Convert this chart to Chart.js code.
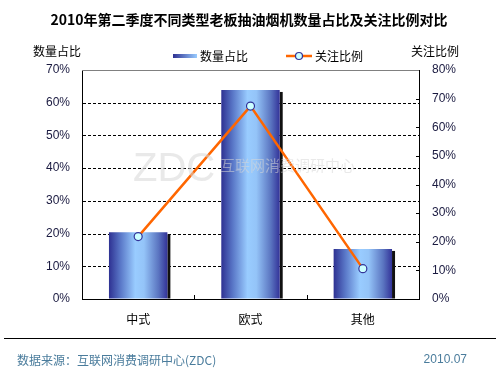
<!DOCTYPE html>
<html>
<head>
<meta charset="utf-8">
<script src="https://cdn.jsdelivr.net/npm/chart.js@4.4.0/dist/chart.umd.min.js"></script>
<style>
    html, body { margin: 0; padding: 0; background: #ffffff; }
    #chartWrap { width: 500px; height: 375px; }
</style>
</head>
<body>
<div id="chartWrap"><canvas id="zdcChart" width="500" height="375"></canvas></div>
<script>
const categories = ['中式', '欧式', '其他'];
const shareValues = [20.4, 63.9, 15.3];
const attentionValues = [21.8, 67.4, 10.6];
const leftTicks = [0, 10, 20, 30, 40, 50, 60, 70];
const rightTicks = [0, 10, 20, 30, 40, 50, 60, 70, 80];

const chartTitle = '2010年第二季度不同类型老板抽油烟机数量占比及关注比例对比';
const leftAxisTitle = '数量占比';
const rightAxisTitle = '关注比例';
const sourceText = '数据来源：互联网消费调研中心(ZDC)';
const dateText = '2010.07';

const CJK_FONT = "'Noto Sans CJK SC', 'Noto Sans', sans-serif";
const LATIN_FONT = "'Liberation Sans', Arial, sans-serif";
const BAR_PERCENT = 0.52;

function barGradient(context) {
    const chart = context.chart;
    const xScale = chart.scales.x;
    if (!chart.chartArea || !xScale) return '#6f8fd8';

    const center = xScale.getPixelForValue(context.dataIndex);
    const half = xScale.width / categories.length * BAR_PERCENT / 2;
    const gradient = chart.ctx.createLinearGradient(center - half, 0, center + half, 0);
    gradient.addColorStop(0, '#2e3192');
    gradient.addColorStop(0.2, '#5a78c8');
    gradient.addColorStop(0.45, '#99ccff');
    gradient.addColorStop(0.6, '#94c4f8');
    gradient.addColorStop(0.85, '#5a74c0');
    gradient.addColorStop(1, '#333399');
    return gradient;
}

const decorPlugin = {
    id: 'zdcDecor',
    beforeDatasetsDraw(chart) {
        // dashed grid lines behind the bars
        const ctx = chart.ctx;
        const area = chart.chartArea;
        const yScale = chart.scales.y;
        ctx.save();
        ctx.strokeStyle = '#000000';
        ctx.lineWidth = 1;
        ctx.setLineDash([3, 2]);
        leftTicks.forEach(function (v) {
            if (v === 0 || v === 70) return;
            const y = Math.round(yScale.getPixelForValue(v)) + 0.5;
            ctx.beginPath();
            ctx.moveTo(area.left + 1, y);
            ctx.lineTo(area.right, y);
            ctx.stroke();
        });
        ctx.restore();
    },
    beforeDatasetDraw(chart, args) {
        if (args.index !== 0) return;
        const ctx = chart.ctx;
        ctx.save();
        ctx.fillStyle = '#111111';
        chart.getDatasetMeta(0).data.forEach(function (bar) {
            const p = bar.getProps(['x', 'y', 'base', 'width'], true);
            ctx.fillRect(p.x + p.width / 2, p.y + 2, 3, p.base - p.y - 2);
        });
        ctx.restore();
    },
    afterDatasetsDraw(chart) {
        const ctx = chart.ctx;
        ctx.save();
        // watermark
        ctx.fillStyle = 'rgba(215, 215, 215, 0.55)';
        ctx.textBaseline = 'middle';
        ctx.font = '40px ' + LATIN_FONT;
        ctx.fillText('ZDC', 133, 170);
        ctx.font = '15px ' + CJK_FONT;
        ctx.fillText('互联网消费调研中心', 220, 165);
        ctx.restore();
    },
    afterDraw(chart) {
        const ctx = chart.ctx;
        const area = chart.chartArea;
        const xScale = chart.scales.x;
        const y2 = chart.scales.y2;

        ctx.save();
        // top border
        ctx.strokeStyle = '#808080';
        ctx.lineWidth = 1;
        ctx.beginPath();
        ctx.moveTo(area.left, area.top + 0.5);
        ctx.lineTo(area.right, area.top + 0.5);
        ctx.stroke();

        // inward ticks on right axis
        ctx.strokeStyle = '#000000';
        rightTicks.forEach(function (v) {
            if (v === 0 || v === 80) return;
            const y = Math.round(y2.getPixelForValue(v)) + 0.5;
            ctx.beginPath();
            ctx.moveTo(area.right - 3, y);
            ctx.lineTo(area.right, y);
            ctx.stroke();
        });

        // category separators on x axis
        for (let i = 0; i < categories.length - 1; i++) {
            const x = Math.round((xScale.getPixelForValue(i) + xScale.getPixelForValue(i + 1)) / 2) + 0.5;
            ctx.beginPath();
            ctx.moveTo(x, area.bottom - 4);
            ctx.lineTo(x, area.bottom);
            ctx.stroke();
        }

        // title
        ctx.fillStyle = '#000000';
        ctx.textAlign = 'center';
        ctx.textBaseline = 'middle';
        ctx.font = 'bold 14px ' + CJK_FONT;
        ctx.fillText(chartTitle, 249, 20);

        // axis titles
        ctx.font = '12px ' + CJK_FONT;
        ctx.textAlign = 'left';
        ctx.fillText(leftAxisTitle, 33, 51);
        ctx.fillText(rightAxisTitle, 411, 51);

        // legend
        const swatch = ctx.createLinearGradient(173, 0, 197, 0);
        swatch.addColorStop(0, '#2e3192');
        swatch.addColorStop(1, '#99ccff');
        ctx.fillStyle = swatch;
        ctx.fillRect(173, 54, 24, 4);
        ctx.fillStyle = '#000000';
        ctx.fillText('数量占比', 200, 56);

        ctx.strokeStyle = '#ff6600';
        ctx.lineWidth = 2.5;
        ctx.beginPath();
        ctx.moveTo(286, 56);
        ctx.lineTo(312, 56);
        ctx.stroke();
        ctx.fillStyle = '#ccffff';
        ctx.strokeStyle = '#333399';
        ctx.lineWidth = 1.2;
        ctx.beginPath();
        ctx.arc(299, 56, 3.5, 0, Math.PI * 2);
        ctx.fill();
        ctx.stroke();
        ctx.fillStyle = '#000000';
        ctx.fillText('关注比例', 315, 56);

        // footer
        ctx.strokeStyle = '#000000';
        ctx.lineWidth = 1;
        ctx.beginPath();
        ctx.moveTo(4, 338.5);
        ctx.lineTo(496, 338.5);
        ctx.stroke();
        ctx.fillStyle = '#4a7c9c';
        ctx.font = '12px ' + CJK_FONT;
        ctx.fillText(sourceText, 17, 360);
        ctx.textAlign = 'right';
        ctx.font = '12px ' + LATIN_FONT;
        ctx.fillText(dateText, 467, 360);
        ctx.restore();
    }
};

function createZdcChart() {
    const canvas = document.getElementById('zdcChart');
    if (!canvas || typeof Chart === 'undefined') return;

    new Chart(canvas, {
        type: 'bar',
        data: {
            labels: categories,
            datasets: [{
                type: 'bar',
                label: leftAxisTitle,
                data: shareValues,
                yAxisID: 'y',
                backgroundColor: barGradient,
                borderWidth: 0,
                barPercentage: BAR_PERCENT,
                categoryPercentage: 1,
                order: 2
            }, {
                type: 'line',
                label: rightAxisTitle,
                data: attentionValues,
                yAxisID: 'y2',
                borderColor: '#ff6600',
                borderWidth: 2.5,
                tension: 0,
                pointRadius: 4,
                pointBackgroundColor: '#ccffff',
                pointBorderColor: '#333399',
                pointBorderWidth: 1.2,
                order: 1
            }]
        },
        options: {
            responsive: false,
            animation: false,
            layout: {
                padding: { top: 70, left: 0, right: 0, bottom: 0 }
            },
            plugins: {
                legend: { display: false },
                title: { display: false },
                tooltip: { enabled: false }
            },
            scales: {
                x: {
                    afterFit: function (scale) { scale.height = 76; },
                    grid: { display: false, drawTicks: false },
                    border: { color: '#000000', width: 1 },
                    ticks: {
                        padding: 13,
                        color: '#000000',
                        font: { family: CJK_FONT, size: 12 }
                    }
                },
                y: {
                    position: 'left',
                    min: 0,
                    max: 70,
                    afterFit: function (scale) { scale.width = 82; },
                    afterBuildTicks: function (scale) {
                        scale.ticks = leftTicks.map(function (v) { return { value: v }; });
                    },
                    border: { color: '#000000', width: 1 },
                    grid: { drawOnChartArea: false, drawTicks: false },
                    ticks: {
                        padding: 12,
                        color: '#1a1a40',
                        font: { family: LATIN_FONT, size: 12 },
                        callback: function (v) { return v + '%'; }
                    }
                },
                y2: {
                    position: 'right',
                    min: 0,
                    max: 80,
                    afterFit: function (scale) { scale.width = 81; },
                    afterBuildTicks: function (scale) {
                        scale.ticks = rightTicks.map(function (v) { return { value: v }; });
                    },
                    border: { color: '#000000', width: 1 },
                    grid: { drawOnChartArea: false, drawTicks: false },
                    ticks: {
                        padding: 13,
                        color: '#1a1a40',
                        font: { family: LATIN_FONT, size: 12 },
                        callback: function (v) { return v + '%'; }
                    }
                }
            }
        },
        plugins: [decorPlugin]
    });
}

document.addEventListener('DOMContentLoaded', createZdcChart);
</script>
</body>
</html>
